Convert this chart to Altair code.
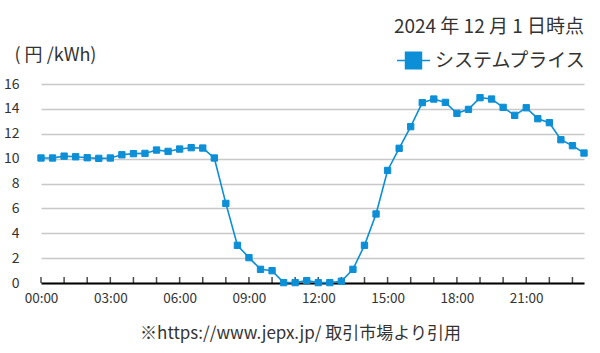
import altair as alt
import pandas as pd

times = [f"{h:02d}:{m:02d}" for h in range(24) for m in (0, 30)]
prices = [10.05, 10.05, 10.2, 10.15, 10.07, 10.02, 10.05, 10.31, 10.4, 10.42,
          10.69, 10.58, 10.77, 10.88, 10.85, 10.05, 6.4, 3.03, 2.04, 1.1,
          0.99, 0.03, 0.03, 0.19, 0.03, 0.03, 0.14, 1.1, 3.03, 5.55,
          9.05, 10.83, 12.57, 14.5, 14.79, 14.52, 13.64, 13.96, 14.9, 14.79,
          14.12, 13.48, 14.09, 13.21, 12.89, 11.52, 11.04, 10.45]
series_name = "システムプライス"
hour_ticks = list(range(24))
y_ticks = [0, 2, 4, 6, 8, 10, 12, 14, 16]

BLUE = "#0c8fd6"
FONT = "Noto Sans CJK JP"

df = pd.DataFrame({
    "time": times,
    "hour": [int(t[:2]) + int(t[3:]) / 60 for t in times],
    "price": prices,
    "series": [series_name] * len(times),
})
ticks_df = pd.DataFrame({"hour": hour_ticks})

W, H = 543, 199

x_scale = alt.Scale(domain=[0, 23.5], nice=False, zero=False)
y_scale = alt.Scale(domain=[0, 16], nice=False)

x_axis = alt.Axis(
    values=hour_ticks,
    labelExpr="datum.value % 3 == 0 ? (datum.value < 10 ? '0' : '') + datum.value + ':00' : ''",
    ticks=False, grid=False, labelOverlap=False, labelFlush=False,
    domainColor="#000000", domainWidth=2,
    labelFont=FONT, labelFontSize=13.5, labelColor="#333333", labelPadding=8,
    title="※https://www.jepx.jp/ 取引市場より引用",
    titleFont=FONT, titleFontSize=17, titleFontWeight="normal", titleColor="#333333",
    titleX=259, titleY=50, titleAlign="center", titleBaseline="middle",
)
y_axis = alt.Axis(
    values=y_ticks, grid=True, gridColor="#c8c8c8", gridWidth=1.5,
    domain=False, ticks=False, labelOverlap=False,
    labelFont=FONT, labelFontSize=14, labelColor="#333333", labelPadding=22,
    title="( 円 /kWh)", titleAngle=0, titleX=-27, titleY=-29,
    titleAlign="left", titleBaseline="middle",
    titleFont=FONT, titleFontSize=18, titleFontWeight="normal", titleColor="#333333",
)

x_enc = alt.X("hour:Q", scale=x_scale, axis=x_axis)
y_enc = alt.Y("price:Q", scale=y_scale, axis=y_axis)

line = alt.Chart(df).mark_line(color=BLUE, strokeWidth=1.6).encode(
    x=x_enc,
    y=y_enc,
)

points = alt.Chart(df).mark_point(
    shape="square", filled=False, fill=BLUE, fillOpacity=1, opacity=1, strokeWidth=1, size=40
).encode(
    x=x_enc,
    y=y_enc,
    color=alt.Color(
        "series:N",
        scale=alt.Scale(range=[BLUE]),
        legend=alt.Legend(
            title=None, orient="none", legendX=355, legendY=-41,
            symbolType="M-1,0H1M-0.48,-0.5H0.48V0.5H-0.48Z",
            symbolSize=1089, symbolStrokeWidth=1.6,
            symbolFillColor=BLUE, symbolStrokeColor=BLUE, symbolOpacity=1,
            labelFont=FONT, labelFontSize=19, labelColor="#333333", labelOffset=4,
        ),
    ),
)

tick_marks = alt.Chart(ticks_df).mark_tick(
    orient="vertical", color="#000000", size=6, thickness=1.5
).encode(
    x=x_enc,
    y=alt.value(H - 3),
)

chart = alt.layer(line, tick_marks, points).properties(
    width=W, height=H,
    title=alt.TitleParams(
        "2024 年 12 月 1 日時点", anchor="end", frame="group",
        font=FONT, fontSize=19, fontWeight="normal", color="#333333",
        offset=6,
    ),
    autosize=alt.AutoSizeParams(type="none"),
    padding={"left": 41, "top": 84, "right": 16, "bottom": 70},
).configure_view(stroke=None).configure_title(baseline="bottom")

chart.save("out.html", embed_options={"renderer": "svg", "actions": False})
